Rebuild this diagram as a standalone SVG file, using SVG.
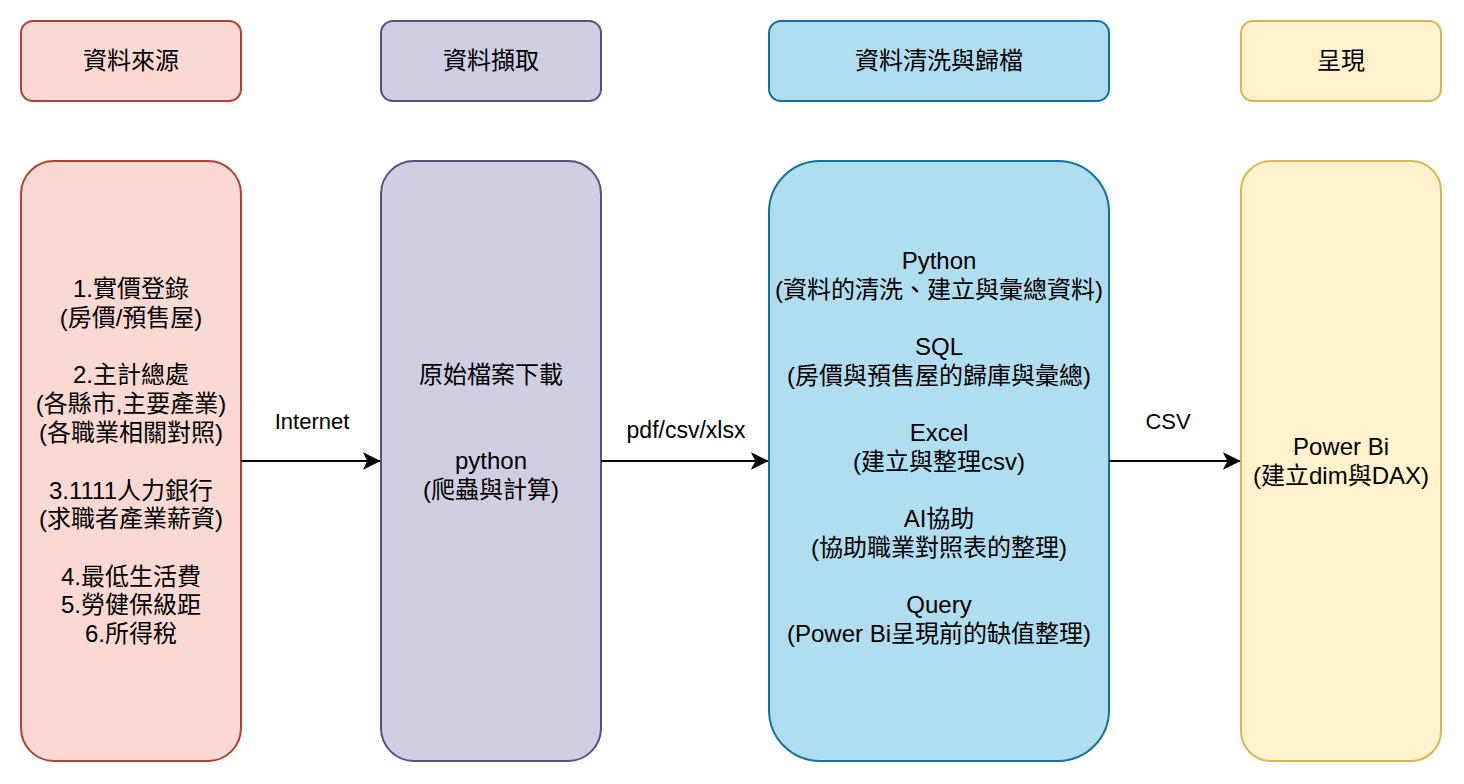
<svg xmlns="http://www.w3.org/2000/svg" width="1464" height="784" viewBox="0 0 1464 784">
<defs>
<style>
text{font-family:"Liberation Sans","Noto Sans CJK TC",Arial,sans-serif;font-size:24px;fill:#000;text-anchor:middle}
.lbl{font-size:22px}
.lbl2{font-size:23px}
.c1{fill:#fad9d5;stroke:#ae4132;stroke-width:2}
.c2{fill:#d0cee2;stroke:#56517e;stroke-width:2}
.c3{fill:#b1ddf0;stroke:#10739e;stroke-width:2}
.c4{fill:#fff2cc;stroke:#d6b656;stroke-width:2}
.edge{stroke:#000;stroke-width:2;fill:none}
</style>
<marker id="arr" viewBox="0 0 10 10" refX="9.6" refY="5" markerWidth="18" markerHeight="18" markerUnits="userSpaceOnUse" orient="auto">
<path d="M0,0 L10,5 L0,10 L2.6,5 Z" fill="#000"/>
</marker>
</defs>
<rect width="1464" height="784" fill="#fff"/>

<g id="h1"><rect class="c1" x="21" y="21" width="220" height="80" rx="12"/><text x="131" y="69">資料來源</text></g>
<g id="h2"><rect class="c2" x="381" y="21" width="220" height="80" rx="12"/><text x="491" y="69">資料擷取</text></g>
<g id="h3"><rect class="c3" x="769" y="21" width="340" height="80" rx="12"/><text x="939" y="69">資料清洗與歸檔</text></g>
<g id="h4"><rect class="c4" x="1241" y="21" width="200" height="80" rx="12"/><text x="1341" y="69">呈現</text></g>

<g id="n1"><rect class="c1" x="21" y="161" width="220" height="600" rx="33"/>
<text x="131" y="297">1.實價登錄</text>
<text x="131" y="326">(房價/預售屋)</text>
<text x="131" y="383">2.主計總處</text>
<text x="131" y="412">(各縣市,主要產業)</text>
<text x="131" y="441">(各職業相關對照)</text>
<text x="131" y="499">3.1111人力銀行</text>
<text x="131" y="527">(求職者產業薪資)</text>
<text x="131" y="585">4.最低生活費</text>
<text x="131" y="613">5.勞健保級距</text>
<text x="131" y="642">6.所得稅</text>
</g>

<g id="n2"><rect class="c2" x="381" y="161" width="220" height="600" rx="33"/>
<text x="491" y="383">原始檔案下載</text>
<text x="491" y="469">python</text>
<text x="491" y="498">(爬蟲與計算)</text>
</g>

<g id="n3"><rect class="c3" x="769" y="161" width="340" height="600" rx="51"/>
<text x="939" y="269">Python</text>
<text x="939" y="298">(資料的清洗、建立與彙總資料)</text>
<text x="939" y="355">SQL</text>
<text x="939" y="384">(房價與預售屋的歸庫與彙總)</text>
<text x="939" y="441">Excel</text>
<text x="939" y="470">(建立與整理csv)</text>
<text x="939" y="527">AI協助</text>
<text x="939" y="556">(協助職業對照表的整理)</text>
<text x="939" y="613">Query</text>
<text x="939" y="642">(Power Bi呈現前的缺值整理)</text>
</g>

<g id="n4"><rect class="c4" x="1241" y="161" width="200" height="600" rx="30"/>
<text x="1341" y="455">Power Bi</text>
<text x="1341" y="484">(建立dim與DAX)</text>
</g>

<g id="connectors">
<path class="edge" d="M241,461 H380" marker-end="url(#arr)"/>
<path class="edge" d="M601,461 H768" marker-end="url(#arr)"/>
<path class="edge" d="M1109,461 H1240" marker-end="url(#arr)"/>
<text class="lbl" x="312" y="429">Internet</text>
<text class="lbl2" x="686" y="438">pdf/csv/xlsx</text>
<text class="lbl" x="1168" y="429">CSV</text>
</g>
</svg>
